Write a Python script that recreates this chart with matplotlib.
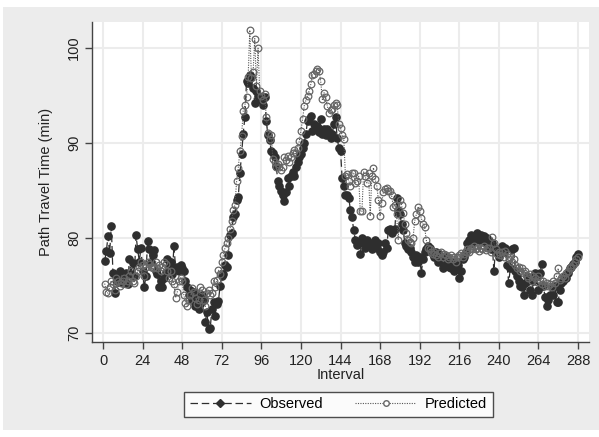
import numpy as np
import matplotlib
matplotlib.use("Agg")
import matplotlib.pyplot as plt
from matplotlib.patches import Rectangle
from matplotlib.lines import Line2D

plt.rcParams['font.family'] = ['Liberation Sans', 'DejaVu Sans']

# interval index 1..288 (5-minute intervals)
interval = np.arange(1, 289)

observed = [
    77.6, 78.6, 80.2, 78.4, 81.3, 76.3, 74.2, 76.0, 75.4, 76.5, 75.5, 75.3,
    75.8, 76.3, 75.2, 77.8, 76.2, 77.4, 76.0, 80.3, 78.8, 77.5, 79.0, 76.5,
    74.8, 76.0, 79.7, 78.8, 77.5, 78.2, 78.7, 76.5, 76.2, 74.8, 75.5, 74.8,
    75.8, 76.4, 77.8, 76.8, 77.5, 76.2, 79.2, 76.8, 77.0, 76.5, 77.2, 76.8,
    76.5, 75.5, 74.8, 74.0, 74.5, 73.5, 74.3, 72.8, 73.8, 72.5, 73.0, 74.0,
    73.5, 71.2, 72.2, 70.4, 70.5, 72.5, 73.3, 71.8, 73.0, 73.4, 75.0, 76.0,
    76.2, 77.2, 77.0, 78.2, 80.3, 80.5, 82.2, 82.5, 84.0, 84.3, 86.8, 88.8,
    91.0, 92.7, 96.5, 96.3, 97.2, 97.0, 95.8, 94.2, 95.5, 95.0, 94.8, 94.5,
    94.0, 94.8, 92.3, 90.8, 90.3, 89.2, 89.0, 88.5, 87.6, 86.0, 85.5, 85.0,
    84.5, 83.9, 84.8, 86.3, 85.5, 86.5, 87.0, 86.5, 87.5, 88.0, 88.5, 88.8,
    89.5, 90.0, 91.0, 92.3, 92.5, 92.8, 91.3, 92.0, 91.5, 91.8, 91.2, 92.5,
    91.0, 91.5, 90.8, 91.5, 91.2, 90.5, 91.0, 92.0, 92.7, 90.5, 89.5, 89.2,
    86.3, 85.5, 84.5, 84.5, 84.2, 83.0, 82.2, 80.8, 79.8, 79.3, 79.5, 78.3,
    80.0, 79.5, 79.0, 79.8, 79.3, 79.5, 78.8, 79.2, 79.8, 79.0, 79.5, 78.5,
    78.2, 78.5, 79.5, 79.0, 80.8, 81.0, 80.5, 80.8, 81.0, 84.2, 83.0, 82.5,
    81.5, 80.8, 79.5, 79.2, 78.8, 79.0, 78.5, 78.0, 77.5, 78.2, 77.5, 78.0,
    76.3, 77.8, 78.5, 78.8, 79.2, 79.0, 78.5, 78.3, 78.0, 78.5, 77.5, 78.3,
    78.0, 76.8, 77.2, 78.0, 77.5, 77.0, 76.8, 77.5, 76.5, 76.8, 77.2, 75.8,
    76.5, 77.8, 78.0, 78.5, 79.5, 79.8, 80.3, 79.5, 80.2, 80.0, 80.5, 79.8,
    80.3, 79.8, 80.2, 79.5, 80.0, 79.2, 78.8, 79.5, 76.5, 78.8, 78.5, 78.0,
    78.8, 79.2, 78.5, 79.0, 77.2, 75.3, 76.8, 78.8, 79.0, 76.5, 76.0, 75.5,
    75.0, 74.8, 74.0, 75.3, 76.0, 75.5, 74.5, 74.0, 75.5, 76.3, 76.0, 74.5,
    76.3, 77.3, 75.0, 73.8, 72.8, 73.5, 74.0, 74.8, 74.0, 75.0, 73.3, 73.3,
    74.5, 75.3, 75.5, 76.0, 75.8, 76.3, 76.8, 77.0, 77.3, 77.5, 78.0, 78.3,
]

predicted = [
    75.2, 74.3, 74.2, 74.8, 75.5, 75.2, 74.5, 75.8, 75.5, 75.0, 75.3, 75.5,
    75.8, 75.2, 75.5, 76.0, 76.5, 75.5, 75.3, 76.0, 76.5, 77.0, 77.5, 77.2,
    76.0, 77.0, 77.5, 77.3, 77.0, 76.8, 77.0, 77.5, 76.8, 77.2, 76.5, 77.0,
    77.5, 77.3, 76.5, 75.8, 76.5, 75.5, 75.2, 73.7, 74.3, 75.5, 75.8, 75.5,
    74.0, 73.2, 72.8, 73.5, 74.0, 74.7, 74.3, 73.7, 73.0, 73.5, 74.8, 74.5,
    73.5, 72.8, 74.2, 74.5, 74.0, 74.2, 75.5, 74.8, 75.6, 76.6, 76.2, 77.5,
    78.2, 79.0, 79.5, 80.0, 81.0, 81.8, 83.0, 83.5, 86.0, 87.4, 89.2, 90.7,
    93.4, 94.0, 94.8, 97.0, 101.9, 96.9, 97.5, 101.0, 96.0, 100.0, 95.5, 95.0,
    94.5, 95.2, 92.7, 91.1, 90.4, 90.8, 88.3, 88.0, 87.5, 87.8, 87.5, 87.2,
    87.5, 88.5, 88.2, 88.6, 88.0, 88.5, 89.0, 89.3, 89.0, 89.5, 90.2, 91.3,
    92.5, 93.9, 94.5, 95.0, 95.5, 96.2, 97.2, 97.3, 97.6, 97.8, 97.6, 96.5,
    94.6, 95.3, 94.8, 93.9, 93.2, 93.5, 93.6, 94.0, 94.2, 94.0, 92.0, 91.6,
    90.8, 90.4, 86.5, 86.7, 86.0, 85.5, 86.8, 86.9, 85.8, 86.0, 86.5, 82.8,
    82.8, 87.0, 86.5, 85.8, 86.8, 82.3, 86.5, 87.4, 86.2, 85.5, 84.0, 82.3,
    83.7, 84.8, 85.2, 85.3, 85.0, 84.9, 84.5, 83.3, 83.5, 82.5, 79.8, 84.0,
    83.5, 82.6, 81.5, 80.5, 79.8, 79.6, 79.5, 80.0, 81.8, 82.5, 83.3, 82.8,
    82.1, 81.5, 81.2, 79.8, 79.0, 78.8, 78.5, 78.3, 78.5, 78.2, 78.0, 78.4,
    78.5, 78.0, 78.3, 78.2, 77.8, 78.0, 78.2, 77.8, 78.0, 77.5, 78.0, 78.2,
    78.4, 78.0, 78.3, 78.5, 78.8, 78.5, 79.0, 78.8, 79.2, 78.8, 79.0, 78.6,
    79.0, 78.8, 79.2, 78.7, 78.9, 79.0, 78.5, 80.1, 79.5, 78.8, 78.3, 78.5,
    78.2, 78.5, 78.0, 78.6, 78.3, 77.8, 78.0, 77.5, 77.8, 77.2, 76.8, 77.0,
    76.5, 76.8, 76.3, 76.5, 76.0, 75.8, 76.2, 75.5, 76.0, 75.8, 75.4, 76.0,
    75.6, 75.2, 75.5, 75.0, 75.3, 75.0, 75.2, 74.8, 75.5, 75.3, 76.0, 76.8,
    75.6, 75.8, 76.0, 75.8, 76.3, 76.5, 76.8, 77.0, 77.2, 77.5, 77.8, 78.0,
]

xticks = list(range(0, 289, 24))
yticks = [70, 80, 90, 100]

W, H = 599, 437
fig = plt.figure(figsize=(W / 100, H / 100), dpi=100, facecolor='white')
# Stata-style light gray outer region, kept behind the axes
bg = Rectangle((3 / W, 7 / H), 1 - 3 / W, 1 - 14 / H, transform=fig.transFigure,
               facecolor='#ececec', edgecolor='none', zorder=-10)
fig.patches.append(bg)

ax = fig.add_axes([92 / W, (H - 342) / H, 497 / W, 320 / H])
ax.set_zorder(1)
ax.set_facecolor('white')

dark = '#2e2e2e'
ax.plot(interval, observed, color=dark, linewidth=0.9, linestyle=(0, (6, 3)),
        marker='o', markersize=5.2, markerfacecolor=dark, markeredgecolor=dark,
        zorder=3, label='Observed')
ax.plot(interval, predicted, color='#555555', linewidth=0.8, linestyle=(0, (1, 1.2)),
        marker='o', markersize=4.8, markerfacecolor='none', markeredgecolor='#666666',
        markeredgewidth=0.9, zorder=4, label='Predicted')

ax.set_xlim(-6.7, 294.7)
ax.set_ylim(69.05, 102.75)
ax.set_xticks(xticks)
ax.set_yticks(yticks)
ax.grid(True, color='#ececec', linewidth=1.5)
ax.set_axisbelow(True)

for side in ['top', 'right']:
    ax.spines[side].set_visible(False)
for side in ['left', 'bottom']:
    ax.spines[side].set_color('#444444')
    ax.spines[side].set_linewidth(1.0)

ax.tick_params(axis='both', direction='out', length=5, width=1, color='#444444',
               labelsize=10.5, labelcolor='#222222')
ax.tick_params(axis='y', pad=3)
plt.setp(ax.get_yticklabels(), rotation=90, va='center')

ax.set_xlabel('Interval', fontsize=10.5, color='#222222', labelpad=0)
ax.set_ylabel('Path Travel Time (min)', fontsize=10.5, color='#222222', labelpad=10)

handles = [
    Line2D([], [], color=dark, linewidth=0.9, linestyle=(0, (6, 3)), marker='D',
           markersize=4, markerfacecolor=dark, markeredgecolor=dark),
    Line2D([], [], color='#555555', linewidth=0.8, linestyle=(0, (1, 1.2)), marker='o',
           markersize=4, markerfacecolor='white', markeredgecolor='#666666'),
]
leg = fig.legend(handles, ['Observed', 'Predicted'], loc='center',
                 bbox_to_anchor=(338.5 / W, 1 - 404.5 / H), ncol=2, frameon=True,
                 fancybox=False, edgecolor='#222222', fontsize=10.5,
                 handlelength=4.2, columnspacing=2.2, borderpad=0.4,
                 handletextpad=0.6)
leg.get_frame().set_linewidth(1.0)

fig.savefig('out.png', dpi=100, facecolor=fig.get_facecolor())
